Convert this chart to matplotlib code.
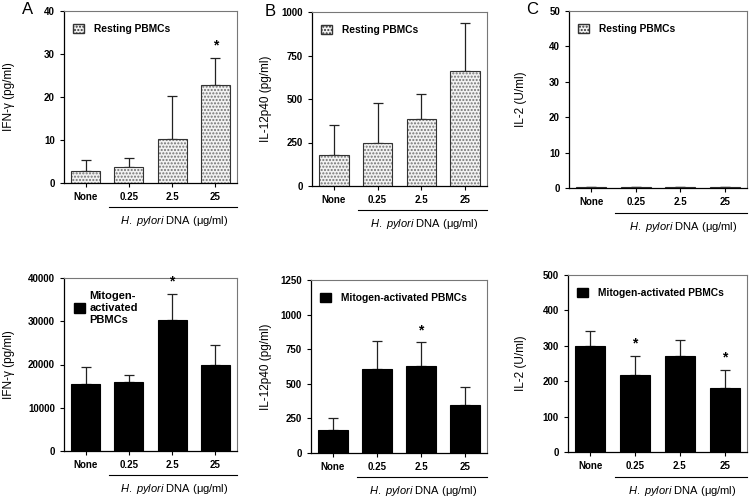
import matplotlib.pyplot as plt
from matplotlib.patches import Patch
from matplotlib.lines import Line2D

plt.rcParams['font.family'] = ['Liberation Sans', 'DejaVu Sans']
plt.rcParams['mathtext.fontset'] = 'custom'
plt.rcParams['mathtext.it'] = 'Liberation Sans:italic'
plt.rcParams['mathtext.rm'] = 'Liberation Sans'

doses = ['None', '0.25', '2.5', '25']

# resting PBMCs
ifn_rest = [2.9, 3.8, 10.3, 22.8]
ifn_rest_err = [2.5, 2.1, 9.9, 6.3]
il12_rest = [178, 250, 383, 662]
il12_rest_err = [172, 225, 147, 273]
il2_rest = [0.15, 0.15, 0.15, 0.15]
il2_rest_err = [0, 0, 0, 0]

# mitogen-activated PBMCs
ifn_mit = [15500, 16000, 30300, 20000]
ifn_mit_err = [3900, 1500, 6000, 4400]
il12_mit = [165, 605, 630, 350]
il12_mit_err = [85, 203, 170, 125]
il2_mit = [300, 218, 270, 180]
il2_mit_err = [42, 54, 45, 52]

W, H = 752, 500
fig = plt.figure(figsize=(7.52, 5.0), dpi=100)


def make_ax(l, r, t, b):
    return fig.add_axes([l / W, 1 - b / H, (r - l) / W, (b - t) / H])


def panel(ax, vals, errs, ymax, yticks, ylabel, resting, legend_text, stars,
          label_x=-0.23, leg_size=7.4, leg_pad=1.0):
    x = list(range(len(doses)))
    if resting:
        bars = ax.bar(x, vals, width=0.67, color='#f2f2f2', edgecolor='#333333',
                      hatch='.....', linewidth=0.8, zorder=2)
        for b in bars:
            b._hatch_color = (0.45, 0.45, 0.45, 1)
    else:
        ax.bar(x, vals, width=0.67, color='black', edgecolor='black', linewidth=0.8, zorder=2)
    ax.errorbar(x, vals, yerr=[[0] * len(errs), errs], fmt='none', ecolor='#222222',
                elinewidth=0.9, capsize=3.5, capthick=0.9, zorder=1)
    for i in stars:
        ax.text(i, vals[i] + errs[i] + ymax * 0.03, '*', ha='center', va='bottom',
                fontsize=10, fontweight='bold')
    ax.set_xlim(-0.5, 3.5)
    ax.set_ylim(0, ymax)
    ax.set_yticks(yticks)
    ax.set_xticks(x)
    ax.set_xticklabels(doses)
    ax.tick_params(labelsize=7, length=3, width=0.8, direction='out')
    for lab in ax.get_xticklabels() + ax.get_yticklabels():
        lab.set_fontweight('bold')
    ax.set_ylabel(ylabel, fontsize=8.5)
    ax.yaxis.set_label_coords(label_x, 0.5)
    for s in ['top', 'right']:
        ax.spines[s].set_color('#777777')
        ax.spines[s].set_linewidth(0.8)
    for s in ['left', 'bottom']:
        ax.spines[s].set_linewidth(0.9)
    if resting:
        handle = Patch(facecolor='#f2f2f2', edgecolor='#333333', hatch='.....')
    else:
        handle = Patch(facecolor='black', edgecolor='black')
    ax.legend(handles=[handle], labels=[legend_text], loc='upper left',
              bbox_to_anchor=(0.0, 0.98), frameon=False, handlelength=1.0,
              handleheight=1.0, handletextpad=leg_pad,
              prop={'size': leg_size, 'weight': 'bold'})
    ax.add_line(Line2D([0.26, 1.0], [-0.14, -0.14], transform=ax.transAxes,
                       color='black', linewidth=0.8, clip_on=False))
    ax.text(0.64, -0.22, r'$\mathit{H.\ pylori}$ DNA (μg/ml)', transform=ax.transAxes,
            ha='center', va='center', fontsize=8)


axA1 = make_ax(64, 237, 11, 183)
panel(axA1, ifn_rest, ifn_rest_err, 40, [0, 10, 20, 30, 40], 'IFN-γ (pg/ml)', True,
      'Resting PBMCs', [3], label_x=-0.283)
axB1 = make_ax(312, 487, 12, 186)
panel(axB1, il12_rest, il12_rest_err, 1000, [0, 250, 500, 750, 1000], 'IL-12p40 (pg/ml)', True,
      'Resting PBMCs', [], label_x=-0.229)
axC1 = make_ax(569, 747, 11, 188)
panel(axC1, il2_rest, il2_rest_err, 50, [0, 10, 20, 30, 40, 50], 'IL-2 (U/ml)', True,
      'Resting PBMCs', [], label_x=-0.236)

axA2 = make_ax(64, 237, 278, 451)
panel(axA2, ifn_mit, ifn_mit_err, 40000, [0, 10000, 20000, 30000, 40000], 'IFN-γ (pg/ml)', False,
      'Mitogen-\nactivated\nPBMCs', [2], label_x=-0.283, leg_size=8, leg_pad=0.4)
axB2 = make_ax(311, 487, 280, 453)
panel(axB2, il12_mit, il12_mit_err, 1250, [0, 250, 500, 750, 1000, 1250], 'IL-12p40 (pg/ml)', False,
      'Mitogen-activated PBMCs', [2], label_x=-0.222)
axC2 = make_ax(568, 747, 275, 452)
panel(axC2, il2_mit, il2_mit_err, 500, [0, 100, 200, 300, 400, 500], 'IL-2 (U/ml)', False,
      'Mitogen-activated PBMCs', [1, 3], label_x=-0.229)

fig.text(22 / W, 1 - 10 / H, 'A', fontsize=12, ha='left', va='center')
fig.text(265 / W, 1 - 12 / H, 'B', fontsize=12, ha='left', va='center')
fig.text(526 / W, 1 - 10 / H, 'C', fontsize=12, ha='left', va='center')

fig.savefig('out.png', dpi=100)
